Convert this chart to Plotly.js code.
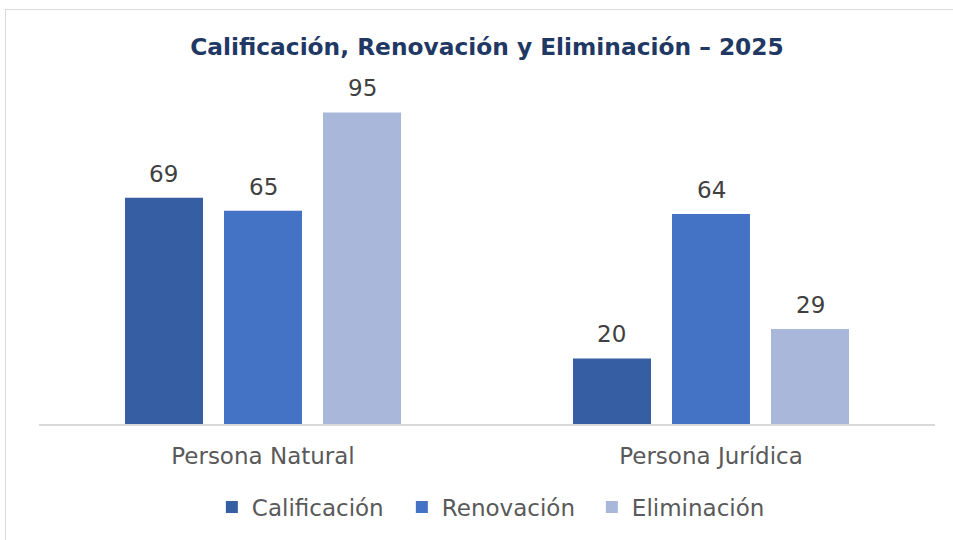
<!DOCTYPE html>
<html>
<head>
<meta charset="utf-8">
<script src="https://cdn.plot.ly/plotly-3.0.1.min.js"></script>
<style>
  html, body { margin: 0; padding: 0; background: #fff; overflow: hidden; }
  #wrap { position: absolute; left: 0; top: 0; width: 953px; height: 540px; overflow: hidden; }
  #frame { position: absolute; left: 5px; top: 9px; width: 1000px; height: 600px; border: 1px solid #d9d9d9; box-sizing: border-box; }
  #chart { position: absolute; left: 0; top: 0; width: 953px; height: 540px; }
</style>
</head>
<body>
<div id="wrap">
  <div id="frame"></div>
  <div id="chart"></div>
</div>
<script>
const categories = ["Persona Natural", "Persona Jurídica"];
const seriesNames = ["Calificación", "Renovación", "Eliminación"];
const calificacion = [69, 20];
const renovacion = [65, 64];
const eliminacion = [95, 29];
const seriesColors = ["#365ea2", "#4472c4", "#a9b7db"];
const chartTitle = "Calificación, Renovación y Eliminación – 2025";

const values = [calificacion, renovacion, eliminacion];
const font = "'DejaVu Sans', sans-serif";

// layout geometry (pixels)
const plotLeft = 39, plotRight = 935, plotTop = 96, plotBottom = 424;
const bargap = 0.337, bargroupgap = 0.212;
const catWidthPx = (plotRight - plotLeft) / categories.length;
const slotPx = catWidthPx * (1 - bargap) / values.length;

const traces = values.map((v, i) => ({
  type: "bar",
  name: seriesNames[i],
  x: categories,
  y: v,
  marker: { color: seriesColors[i] },
  hoverinfo: "none"
}));

const annotations = [];
values.forEach((v, i) => {
  v.forEach((val, j) => {
    annotations.push({
      x: categories[j], y: val, xref: "x", yref: "y",
      text: String(val),
      showarrow: false,
      xanchor: "center", yanchor: "bottom",
      xshift: (i - (values.length - 1) / 2) * slotPx,
      yshift: 9,
      font: { family: font, size: 23, color: "#404040" }
    });
  });
});

const layout = {
  width: 953,
  height: 540,
  paper_bgcolor: "rgba(0,0,0,0)",
  plot_bgcolor: "rgba(0,0,0,0)",
  margin: { l: plotLeft, r: 953 - plotRight, t: plotTop, b: 540 - plotBottom },
  barmode: "group",
  bargap: bargap,
  bargroupgap: bargroupgap,
  title: {
    text: "<b>" + chartTitle + "</b>",
    font: { family: font, size: 23.3, color: "#1f3864" },
    x: 0.5, xanchor: "center", xref: "paper",
    y: 1 - 47 / 540, yanchor: "middle", yref: "container"
  },
  xaxis: {
    type: "category",
    showline: true, linecolor: "#d9d9d9", linewidth: 2,
    showgrid: false, zeroline: false,
    ticks: "",
    tickfont: { family: font, size: 23, color: "#595959" },
    ticklabelstandoff: 10
  },
  yaxis: {
    range: [0, 100],
    visible: false,
    showgrid: false, zeroline: false
  },
  annotations: annotations,
  showlegend: true,
  legend: {
    orientation: "h",
    x: 0.511, xanchor: "center",
    y: -0.253, yanchor: "middle",
    font: { family: font, size: 23, color: "#595959" },
    entrywidth: 145, entrywidthmode: "pixels",
    traceorder: "normal"
  }
};

Plotly.newPlot("chart", traces, layout, { displayModeBar: false, staticPlot: true });
</script>
</body>
</html>
